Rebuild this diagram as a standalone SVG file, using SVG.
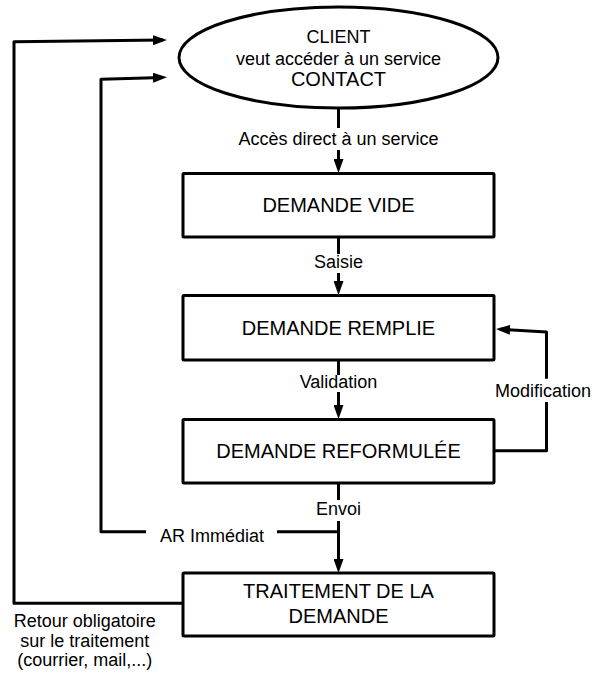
<svg xmlns="http://www.w3.org/2000/svg" width="594" height="675" viewBox="0 0 594 675">
<style>
.shape{fill:#fff;stroke:#000;stroke-width:3;stroke-linejoin:round}
.ln{fill:none;stroke:#000;stroke-width:3;stroke-linejoin:round}
.arr{marker-end:url(#ah)}
text{font-family:"Liberation Sans",Arial,Helvetica,sans-serif;fill:#000;text-anchor:middle}
.t{font-size:20px}
.l{font-size:18px}
</style>
<defs>
<marker id="ah" markerUnits="userSpaceOnUse" markerWidth="14" markerHeight="10" refX="10" refY="5" orient="auto">
<path d="M0,0 L14,5 L0,10 z" fill="#000"/>
</marker>
</defs>
<rect width="594" height="675" fill="#fff"/>
<g id="connectors">
<line class="ln" x1="338.5" y1="108" x2="338.5" y2="128"/>
<line class="ln arr" x1="338.5" y1="150" x2="338.5" y2="169"/>
<text class="l" x="338.5" y="145">Accès direct à un service</text>
<line class="ln" x1="338.5" y1="237" x2="338.5" y2="254"/>
<line class="ln arr" x1="338.5" y1="273" x2="338.5" y2="291"/>
<text class="l" x="338.5" y="268">Saisie</text>
<line class="ln" x1="338.5" y1="360" x2="338.5" y2="375"/>
<line class="ln arr" x1="338.5" y1="392" x2="338.5" y2="415"/>
<text class="l" x="338.5" y="388">Validation</text>
<line class="ln" x1="338.5" y1="483" x2="338.5" y2="500"/>
<line class="ln arr" x1="338.5" y1="521" x2="338.5" y2="569"/>
<text class="l" x="338.5" y="515">Envoi</text>
<line class="ln" x1="277" y1="531.7" x2="338.5" y2="531.7"/>
<polyline class="ln arr" points="146,531.7 101,531.7 101,79.3 163,77.4"/>
<text class="l" x="212" y="541.7">AR Immédiat</text>
<polyline class="ln arr" points="183,603.3 14,603.3 14,41.7 163,40.1"/>
<text class="l" x="84.7" y="627">Retour obligatoire</text>
<text class="l" x="84.7" y="647">sur le traitement</text>
<text class="l" x="84.7" y="666">(courrier, mail,...)</text>
<polyline class="ln" points="494,450.7 546.5,450.7 546.5,402"/>
<polyline class="ln arr" points="546.5,378.7 546.5,332 500,329.2"/>
<text class="l" x="543" y="397">Modification</text>
</g>
<g id="client">
<ellipse class="shape" cx="338.5" cy="57.5" rx="159.5" ry="50.5"/>
<text class="l" x="338.5" y="43">CLIENT</text>
<text class="l" x="338.5" y="65">veut accéder à un service</text>
<text class="t" x="338.5" y="86">CONTACT</text>
</g>
<g id="demande-vide">
<rect class="shape" x="183" y="173.5" width="311" height="63.5" rx="1"/>
<text class="t" x="338.5" y="212">DEMANDE VIDE</text>
</g>
<g id="demande-remplie">
<rect class="shape" x="183" y="295.5" width="311" height="64.5" rx="1"/>
<text class="t" x="338.5" y="335">DEMANDE REMPLIE</text>
</g>
<g id="demande-reformulee">
<rect class="shape" x="183" y="419.5" width="311" height="63.5" rx="1"/>
<text class="t" x="338.5" y="458">DEMANDE REFORMULÉE</text>
</g>
<g id="traitement">
<rect class="shape" x="183" y="573" width="311" height="63" rx="1"/>
<text class="t" x="338.5" y="598">TRAITEMENT DE LA</text>
<text class="t" x="338.5" y="623">DEMANDE</text>
</g>
</svg>
